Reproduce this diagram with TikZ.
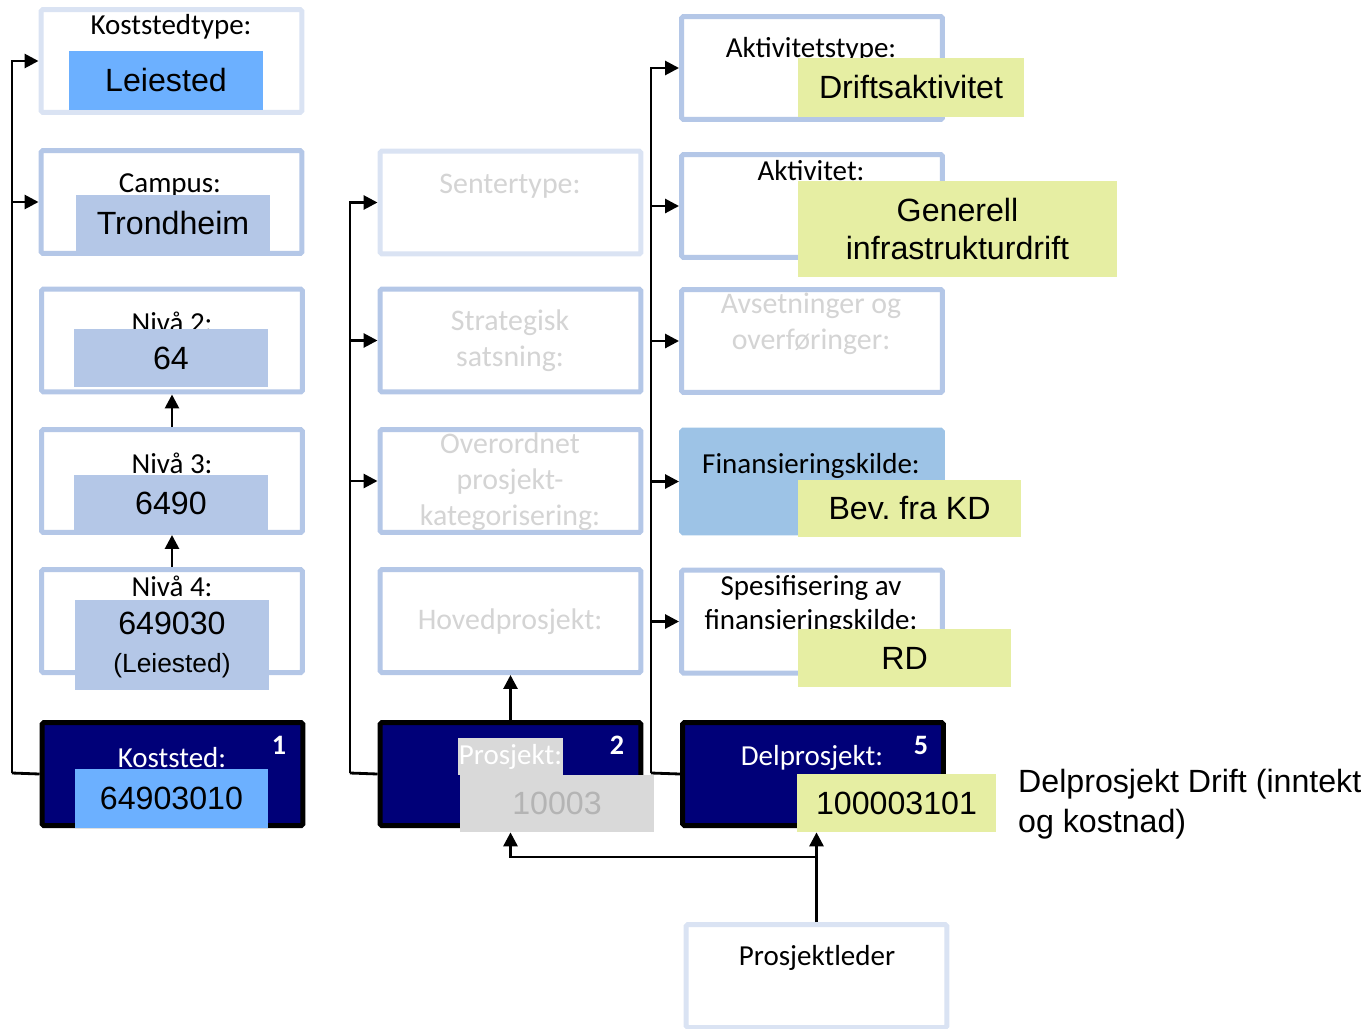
\documentclass[tikz,border=0pt]{standalone}
\usepackage{fontspec}
\setmainfont{Carlito}
\newfontfamily\arialfont{Liberation Sans}
\usetikzlibrary{arrows.meta}
\definecolor{paleblue}{RGB}{218,227,243}
\definecolor{midblue}{RGB}{180,199,231}
\definecolor{navy}{RGB}{0,0,120}
\definecolor{leiblue}{RGB}{108,176,255}
\definecolor{finblue}{RGB}{157,195,230}
\definecolor{valgreen}{RGB}{230,238,163}
\definecolor{greyfill}{RGB}{217,217,217}
\definecolor{greytext}{RGB}{212,212,212}
\tikzset{
	box/.style={draw, line width=0.1cm, rounded corners=1pt, minimum width=5.22cm, minimum height=2.06cm, fill=white},
	palebox/.style={box, draw=paleblue},
	midbox/.style={box, draw=midblue},
	navybox/.style={box, draw=black, fill=navy},
	lbl/.style={font=\fontsize{16.5}{19.3}\selectfont, align=center},
	greylbl/.style={text=greytext, font=\fontsize{17}{20.4}\selectfont, align=center},
	nr/.style={text=white, font=\bfseries\fontsize{16}{18}\selectfont},
	valbox/.style={inner sep=0pt, font=\arialfont\fontsize{18.3}{21.5}\selectfont, align=center},
	conn/.style={line width=1.6pt},
	arr/.style={line width=1.6pt, -{Triangle[length=0.28cm,width=0.28cm]}}
}
\begin{document}
\begin{tikzpicture}[x=0.02cm, y=-0.02cm]
		\useasboundingbox (0,0) rectangle (1365,1028);
		
		\node[palebox] at (171.5,61) (koststedtype) {};
		\node[midbox] at (171.5,202) (campus) {};
		\node[midbox] at (172,340.5) (niva2) {};
		\node[midbox] at (172,481) (niva3) {};
		\node[midbox] at (172,621) (niva4) {};
		\node[navybox] at (172.5,774) (koststed) {};
		
		\node[palebox] at (510.5,202.5) (sentertype) {};
		\node[midbox] at (510.5,340.5) (strategisk) {};
		\node[midbox] at (510.5,481) (overordnet) {};
		\node[midbox] at (510.5,621) (hovedprosjekt) {};
		\node[navybox] at (510.5,774) (prosjekt) {};
		
		\node[midbox] at (812,68) (aktivitetstype) {};
		\node[midbox] at (812,206) (aktivitet) {};
		\node[midbox] at (812,341) (avsetninger) {};
		\node[box, draw=finblue, fill=finblue] at (812,481.5) (finansiering) {};
		\node[midbox] at (812,621.5) (spesifisering) {};
		\node[navybox] at (813,774) (delprosjekt) {};
		
		\node[palebox] at (816.5,976) (prosjektleder) {};
		
		\coordinate (bus1) at (12,773);
		\coordinate (bus2) at (350,773);
		\coordinate (bus3) at (651,773);
		\coordinate (split) at (818,857);
		
		\draw[conn] (koststed.west) -- (bus1);
		\draw[arr] (bus1) |- (koststedtype.west);
		\draw[arr] (bus1) |- (campus.west);
		\draw[arr] (niva4.north) -- (niva3.south);
		\draw[arr] (niva3.north) -- (niva2.south);
		
		\draw[conn] (prosjekt.west) -- (bus2);
		\draw[arr] (bus2) |- (sentertype.west);
		\draw[arr] (bus2) |- (strategisk.west);
		\draw[arr] (bus2) |- (overordnet.west);
		\draw[arr] (prosjekt.north) -- (hovedprosjekt.south);
		
		\draw[conn] (delprosjekt.west) -- (bus3);
		\draw[arr] (bus3) |- (aktivitetstype.west);
		\draw[arr] (bus3) |- (aktivitet.west);
		\draw[arr] (bus3) |- (avsetninger.west);
		\draw[arr] (bus3) |- (finansiering.west);
		\draw[arr] (bus3) |- (spesifisering.west);
		
		\node[lbl] at (171,27) (koststedtypelbl) {Koststedtype:};
		\node[lbl] at (170,185) (campuslbl) {Campus:};
		\node[lbl] at (172,322) (niva2lbl) {Nivå 2:};
		\node[lbl] at (172,463) (niva3lbl) {Nivå 3:};
		\node[lbl] at (172,586) (niva4lbl) {Nivå 4:};
		\node[lbl, text=white] at (172,758) (koststedlbl) {Koststed:};
		\node[nr] at (279,745) (nr1) {1};
		
		\node[greylbl] at (510,186) (sentertypelbl) {Sentertype:};
		\node[greylbl] at (510,341) (strategisklbl) {Strategisk\\satsning:};
		\node[greylbl] at (510,482) (overordnetlbl) {Overordnet\\prosjekt-\\kategorisering:};
		\node[greylbl] at (510,622) (hovedprosjektlbl) {Hovedprosjekt:};
		\node[lbl, text=white, fill=greyfill, inner sep=0pt, minimum width=2.1cm, minimum height=0.74cm] at (510.5,756.5) (prosjektlbl) {Prosjekt:};
		\node[nr] at (617,745) (nr2) {2};
		
		\node[lbl] at (811,50) (aktivitetstypelbl) {Aktivitetstype:};
		\node[lbl] at (811,171) (aktivitetlbl) {Aktivitet:};
		\node[greylbl] at (811,324) (avsetningerlbl) {Avsetninger og\\overføringer:};
		\node[lbl] at (811,466) (finansieringlbl) {Finansieringskilde:};
		\node[lbl] at (811,605) (spesifiseringlbl) {Spesifisering av\\finansieringskilde:};
		\node[lbl, text=white] at (812,758) (delprosjektlbl) {Delprosjekt:};
		\node[nr] at (921,745) (nr5) {5};
		
		\node[lbl] at (817,958) (prosjektlederlbl) {Prosjektleder};
		
		\node[valbox, fill=leiblue, minimum width=3.88cm, minimum height=1.18cm] at (166,80.5) (leiested) {Leiested};
		\node[valbox, fill=midblue, minimum width=3.88cm, minimum height=1.14cm] at (173,223.5) (trondheim) {Trondheim};
		\node[valbox, fill=midblue, minimum width=3.88cm, minimum height=1.16cm] at (171,358) (v64) {64};
		\node[valbox, fill=midblue, minimum width=3.88cm, minimum height=1.14cm] at (171,503.5) (v6490) {6490};
		\node[valbox, fill=midblue, minimum width=3.88cm, minimum height=1.8cm] at (172,645) (v649030) {649030\\{\fontsize{15}{19.8}\selectfont(Leiested)}};
		\node[valbox, fill=leiblue, minimum width=3.86cm, minimum height=1.18cm] at (171.5,798.5) (v64903010) {64903010};
		
		\node[valbox, fill=greyfill, text=greytext!85!black, minimum width=3.88cm, minimum height=1.14cm] at (557,803.5) (v10003) {10003};
		
		\node[valbox, fill=valgreen, minimum width=4.52cm, minimum height=1.18cm] at (911,87.5) (drift) {Driftsaktivitet};
		\node[valbox, fill=valgreen, minimum width=6.38cm, minimum height=1.92cm] at (957.5,229) (generell) {Generell\\infrastrukturdrift};
		\node[valbox, fill=valgreen, minimum width=4.46cm, minimum height=1.14cm] at (909.5,508.5) (bevkd) {Bev.\ fra KD};
		\node[valbox, fill=valgreen, minimum width=4.26cm, minimum height=1.16cm] at (904.5,658) (rd) {RD};
		\node[valbox, fill=valgreen, minimum width=3.98cm, minimum height=1.16cm] at (896.5,803) (v100003101) {100003101};
		
		\node[anchor=west, align=left, font=\arialfont\fontsize{18.3}{22.7}\selectfont] at (1012,804) (merknad) {Delprosjekt Drift (inntekt\\og kostnad)};
		
		\draw[arr] (prosjektleder.north) -- (prosjektleder.north |- v100003101.south);
		\draw[arr] (split) -| (prosjekt.center |- v10003.south);
		\end{tikzpicture}
\end{document}
